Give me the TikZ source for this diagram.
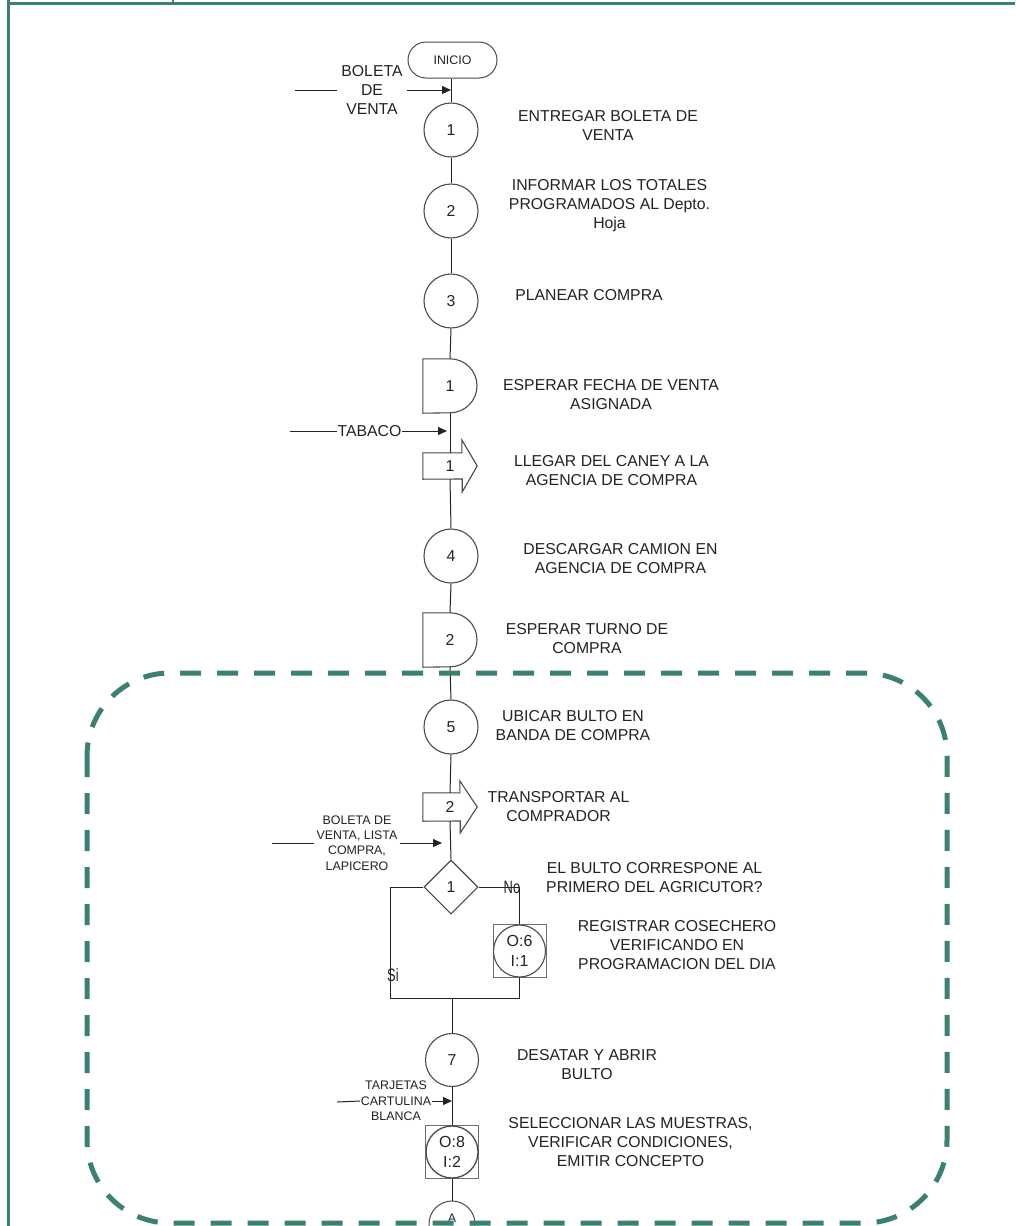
\documentclass[tikz,border=0pt]{standalone}
\usepackage{fontspec}
\setmainfont{Liberation Sans}
\usetikzlibrary{shapes.geometric,arrows.meta,calc}
\definecolor{frame}{RGB}{58,128,115}
\definecolor{ink}{RGB}{35,35,35}
\definecolor{edge}{RGB}{75,75,75}

\tikzset{
  big/.style={font=\fontsize{15.8}{19}\selectfont, text=ink},
  small/.style={font=\fontsize{12.4}{15.3}\selectfont, text=ink},
  lbl/.style={big, align=center, inner sep=0pt},
  opc/.style={circle, draw=edge, line width=1.1pt, minimum size=54pt, inner sep=0pt, big},
  holder/.style={minimum width=54pt, inner sep=0pt, big},
  outline/.style={draw=edge, line width=1.1pt},
  flow/.style={draw=ink, line width=1pt},
  feed/.style={flow, -{Triangle[length=9pt,width=8pt]}},
  inspbox/.style={rectangle, draw=edge!80, line width=0.8pt, minimum size=53pt, inner sep=0pt, align=center, font=\fontsize{16}{20}\selectfont, text=ink},
  answer/.style={font=\fontsize{18}{20}\selectfont, text=ink, inner sep=0pt},
}

\begin{document}
\begin{tikzpicture}[x=1pt, y=-1pt]
\clip (0,0) rectangle (1015,1226);
\fill[white] (0,0) rectangle (1015,1226);

% page frame
\draw[frame, line width=3.2pt] (8,3.4) -- (1015,3.4);
\draw[frame, line width=3pt] (8,0) -- (8,1226);
\draw[frame, line width=1.6pt] (173,0) -- (173,4);

% ---------------- process steps ----------------
\node[draw=edge, line width=1pt, rounded corners=18pt, minimum width=89pt, minimum height=36pt, inner sep=0pt, small] (ini) at (452.5,60) {INICIO};

\node[opc] (c1) at (451,130) {1};
\node[opc] (c2) at (451,211) {2};
\node[opc] (c3) at (451,301) {3};

\node[holder, minimum height=54pt] (d1) at (450,386) {1};
\draw[outline] (d1.north west) -- (d1.north) arc[start angle=90, end angle=-90, radius=27pt] -- (d1.south west) -- cycle;

\node[holder, minimum height=26pt] (t1) at (450,466) {1};
\draw[outline] (t1.north west) -- ++(39,0) -- ++(0,-13) -- (t1.east) -- ++(-15,26) -- ++(0,-13) -- (t1.south west) -- cycle;

\node[opc] (c4) at (451,556) {4};

\node[holder, minimum height=54pt] (d2) at (450,640) {2};
\draw[outline] (d2.north west) -- (d2.north) arc[start angle=90, end angle=-90, radius=27pt] -- (d2.south west) -- cycle;

\node[opc] (c5) at (451,727) {5};

\node[holder, minimum height=28pt] (t2) at (450,807) {2};
\draw[outline] (t2.north west) -- ++(37,0) -- ++(0,-12) -- (t2.east) -- ++(-17,26) -- ++(0,-12) -- (t2.south west) -- cycle;

\node[diamond, aspect=1, draw=edge, line width=1.1pt, minimum width=54pt, minimum height=54pt, inner sep=0pt, big] (dia) at (451,887) {1};

\node[inspbox] (op6) at (519.5,951) {O:6\\I:1};
\draw[edge, line width=1.1pt] (op6.center) circle[radius=26pt];

\node[opc, minimum size=53pt] (c7) at (452,1060) {7};

\node[inspbox] (op8) at (452,1152) {O:8\\I:2};
\draw[edge, line width=1.3pt] (op8.center) circle[radius=26pt];

\node[circle, draw=edge, line width=1pt, minimum size=46pt, inner sep=0pt] (ca) at (452,1224) {};
\node[small, inner sep=0pt] (catext) at (452,1218) {A};

% ---------------- main flow ----------------
\draw[flow] (c1.north |- ini.south) -- (c1.north);
\draw[flow] (c1.south) -- (c2.north);
\draw[flow] (c2.south) -- (c3.north);
\draw[flow] (c3.south) -- (d1.north);
\draw[flow] (d1.south) -- (t1.north);
\draw[flow] (t1.south) -- (c4.north);
\draw[flow] (c4.south) -- (d2.north);
\draw[flow] (d2.south) -- (c5.north);
\draw[flow] (c5.south) -- (t2.north);
\draw[flow] (t2.south) -- (dia.north);

% decision branches
\coordinate (join) at (452,998);
\coordinate (sicorner) at (390,998);
\draw[flow] (dia.east) -| (op6.north);
\draw[flow] (op6.south) |- (join);
\draw[flow] (dia.west) -| (sicorner) -- (join);
\draw[flow] (join) -- (c7.north);
\draw[flow] (c7.south) -- (op8.north);
\draw[flow] (op8.south) -- (ca.north);

\node[answer] (no) at (512,887) {\scalebox{0.72}[1]{No}};
\node[answer] (si) at (393,975) {\scalebox{0.72}[1]{Si}};

% ---------------- inputs ----------------
\coordinate (b1s) at (295,90);
\node[big, align=center, inner xsep=4.5pt, inner ysep=0pt] (b1) at (372,90) {BOLETA\\DE\\VENTA};
\draw[flow] (b1s) -- (b1.west);
\draw[feed] (b1.east) -- (c1.north |- b1);

\coordinate (tbs) at (290,431);
\node[big, inner xsep=0.5pt, inner ysep=0pt] (tb) at (369.5,431) {TABACO};
\draw[flow] (tbs) -- (tb.west);
\draw[feed] (tb.east) -- ($(d1.south |- tb)+(-3,0)$);

\coordinate (bls) at (272,843);
\node[small, align=center, inner xsep=2pt, inner ysep=0pt] (bl) at (357,843) {BOLETA DE\\VENTA, LISTA\\COMPRA,\\LAPICERO};
\draw[flow] (bls) -- (bl.west);
\draw[feed] (bl.east) -- ($(t2.south |- bl)+(-8,0)$);

\coordinate (tjs) at (337,1102);
\node[small, align=center, inner xsep=1pt, inner ysep=0pt] (tj) at (396,1101) {TARJETAS\\CARTULINA\\BLANCA};
\draw[flow] (tjs) -- (tj.west);
\draw[feed] (tj.east) -- (c7.south |- tj);

% ---------------- descriptions ----------------
\node[lbl] (l1) at (608,125.5) {ENTREGAR BOLETA DE\\VENTA};
\node[lbl] (l2) at (609.5,206) {INFORMAR LOS TOTALES\\PROGRAMADOS AL Depto.\\Hoja};
\node[lbl] (l3) at (589,295) {PLANEAR COMPRA};
\node[lbl] (l4) at (611,394.5) {ESPERAR FECHA DE VENTA\\ASIGNADA};
\node[lbl] (l5) at (611.5,470.5) {LLEGAR DEL CANEY A LA\\AGENCIA DE COMPRA};
\node[lbl] (l6) at (620.5,558.5) {DESCARGAR CAMION EN\\AGENCIA DE COMPRA};
\node[lbl] (l7) at (587,638.5) {ESPERAR TURNO DE\\COMPRA};
\node[lbl] (l8) at (573,725.5) {UBICAR BULTO EN\\BANDA DE COMPRA};
\node[lbl] (l9) at (558.5,806.5) {TRANSPORTAR AL\\COMPRADOR};
\node[lbl] (l10) at (654.5,877.5) {EL BULTO CORRESPONE AL\\PRIMERO DEL AGRICUTOR?};
\node[lbl] (l11) at (677,945) {REGISTRAR COSECHERO\\VERIFICANDO EN\\PROGRAMACION DEL DIA};
\node[lbl] (l12) at (587,1064.5) {DESATAR Y ABRIR\\BULTO};
\node[lbl] (l13) at (630.5,1142) {SELECCIONAR LAS MUESTRAS,\\VERIFICAR CONDICIONES,\\EMITIR CONCEPTO};

% ---------------- grouping outline ----------------
\draw[frame, line width=5pt, dash pattern=on 21pt off 16pt, rounded corners=83pt] (87,673) rectangle (947,1223);
\end{tikzpicture}
\end{document}
